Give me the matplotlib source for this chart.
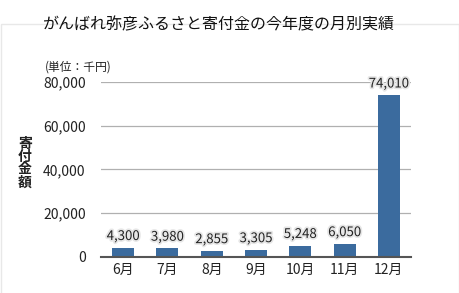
"""Monthly donation chart (がんばれ弥彦ふるさと寄付金)."""

import matplotlib

matplotlib.use("Agg")

import matplotlib.pyplot as plt
import matplotlib.patheffects as pe
from matplotlib.patches import Rectangle

plt.rcParams["font.family"] = ["Noto Sans CJK JP", "DejaVu Sans"]

MONTHS = ["6月", "7月", "8月", "9月", "10月", "11月", "12月"]
AMOUNTS = [4300, 3980, 2855, 3305, 5248, 6050, 74010]
Y_TICKS = [0, 20000, 40000, 60000, 80000]

BAR_COLOR = "#3b6b9e"


def main() -> None:
    fig = plt.figure(figsize=(4.6, 2.93), dpi=100)

    # faint panel frame behind everything
    fig.patches.append(
        Rectangle((1 / 460, -0.1), 458 / 460, 1.1 - 24 / 293,
                  transform=fig.transFigure, fill=False,
                  edgecolor="#e8e8e8", linewidth=1.0, zorder=0)
    )

    ax = fig.add_axes([101 / 460, 36 / 293, 310 / 460, 175 / 293])
    x = range(len(MONTHS))
    ax.bar(x, AMOUNTS, width=0.5, color=BAR_COLOR, zorder=3)

    for xi, val in zip(x, AMOUNTS):
        ax.annotate(
            f"{val:,}", (xi, val), xytext=(0, 8), textcoords="offset points",
            ha="center", va="center", fontsize=9.5, color="#222222", zorder=4,
            path_effects=[pe.withStroke(linewidth=2.5, foreground="#e6e6e6")],
        )

    ax.set_xlim(-0.5, len(MONTHS) - 0.5)
    ax.set_ylim(0, 80000)
    ax.set_yticks(Y_TICKS)
    ax.set_yticklabels([f"{v:,}" for v in Y_TICKS], fontsize=10, color="#222222")
    ax.set_xticks(list(x))
    ax.set_xticklabels(MONTHS, fontsize=10, color="#222222")
    ax.tick_params(axis="y", length=0, pad=11)
    ax.tick_params(axis="x", length=0, pad=4)

    ax.grid(axis="y", color="#b0b0b0", linewidth=0.9, zorder=1)
    for side in ("top", "right", "left"):
        ax.spines[side].set_visible(False)
    ax.spines["bottom"].set_color("#555555")
    ax.spines["bottom"].set_linewidth(1.5)
    ax.spines["bottom"].set_zorder(5)

    fig.text(219 / 460, 1 - 25 / 293, "がんばれ弥彦ふるさと寄付金の今年度の月別実績",
             ha="center", va="center", fontsize=11.5, color="#111111")
    fig.text(45 / 460, 1 - 67 / 293, "(単位：千円)", ha="left", va="center",
             fontsize=8.5, color="#222222")
    fig.text(25 / 460, 1 - 163 / 293, "寄\n付\n金\n額", ha="center", va="center",
             fontsize=10, fontweight="bold", linespacing=0.9, color="#222222")

    fig.savefig("out.png", dpi=100)
    plt.close(fig)


if __name__ == "__main__":
    main()
